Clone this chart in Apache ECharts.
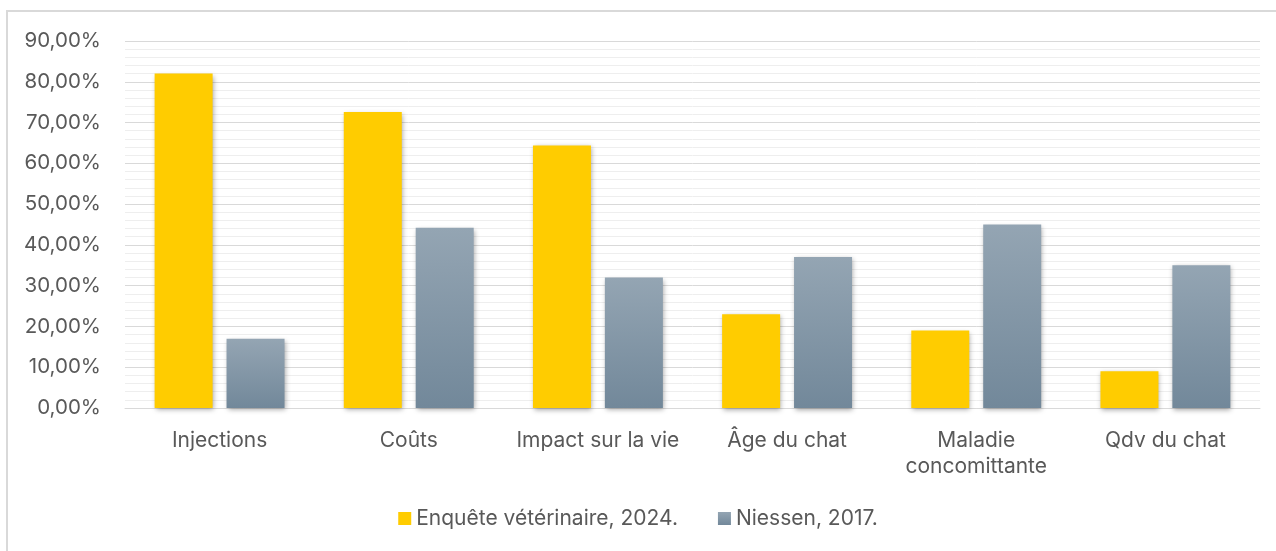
<!DOCTYPE html>
<html>
<head>
<meta charset="utf-8">
<script src="https://cdn.jsdelivr.net/npm/echarts@6/dist/echarts.min.js"></script>
<style>
  html, body { margin: 0; padding: 0; background: #fff; }
  #chart { width: 1276px; height: 551px; }
</style>
</head>
<body>
<div id="chart"></div>
<script>
// datos ---------------------------------------------------------
const categorias = ["Injections", "Coûts", "Impact sur la vie", "Âge du chat", "Maladie concomittante", "Qdv du chat"];
const enquete2024 = [82, 72.6, 64.4, 23, 19, 9];
const niessen2017 = [17, 44.2, 32, 37, 45, 35];
const nombres = ["Enquête vétérinaire, 2024.", "Niessen, 2017."];

const chart = echarts.init(document.getElementById("chart"));

const fuente = "Inter, 'Noto Sans', sans-serif";
const sombra = {
  shadowBlur: 5,
  shadowOffsetX: 1,
  shadowOffsetY: 2,
  shadowColor: "rgba(0,0,0,0.35)",
};

chart.setOption({
  backgroundColor: "#fff",
  animation: false,
  textStyle: { fontFamily: fuente },
  graphic: [
    {
      type: "rect",
      shape: { x: 7, y: 11, width: 1300, height: 600 },
      style: { fill: "none", stroke: "#d9d9d9", lineWidth: 2 },
      silent: true,
    },
  ],
  grid: { left: 125, right: 16, top: 41, bottom: 143 },
  legend: {
    data: nombres,
    bottom: 17,
    left: "center",
    icon: "rect",
    itemWidth: 13,
    itemHeight: 13,
    itemGap: 40,
    textStyle: { fontSize: 21, color: "#595959", fontFamily: fuente },
  },
  xAxis: {
    type: "category",
    data: categorias,
    axisLine: { show: true, lineStyle: { color: "#d9d9d9", width: 1 } },
    axisTick: { show: false },
    axisLabel: {
      interval: 0,
      fontSize: 21,
      color: "#595959",
      margin: 20,
      lineHeight: 26,
      formatter: (v) => v.replace(" concomittante", "\nconcomittante"),
    },
  },
  yAxis: {
    type: "value",
    min: 0,
    max: 90,
    interval: 10,
    axisLine: { show: false },
    axisTick: { show: false },
    axisLabel: {
      fontSize: 20.5,
      color: "#595959",
      margin: 24,
      formatter: (v) => v.toFixed(2).replace(".", ",") + "%",
    },
    splitLine: { lineStyle: { color: "#d9d9d9", width: 1 } },
    minorTick: { show: false, splitNumber: 5 },
    minorSplitLine: { show: true, lineStyle: { color: "#eeeeee", width: 1 } },
  },
  series: [
    {
      name: nombres[0],
      type: "bar",
      data: enquete2024,
      barWidth: 58,
      barGap: "24%",
      itemStyle: { color: "#ffcc00", ...sombra },
    },
    {
      name: nombres[1],
      type: "bar",
      data: niessen2017,
      barWidth: 58,
      itemStyle: {
        color: new echarts.graphic.LinearGradient(0, 0, 0, 1, [
          { offset: 0, color: "#94a5b3" },
          { offset: 1, color: "#72889a" },
        ]),
        ...sombra,
      },
    },
  ],
});
</script>
</body>
</html>
